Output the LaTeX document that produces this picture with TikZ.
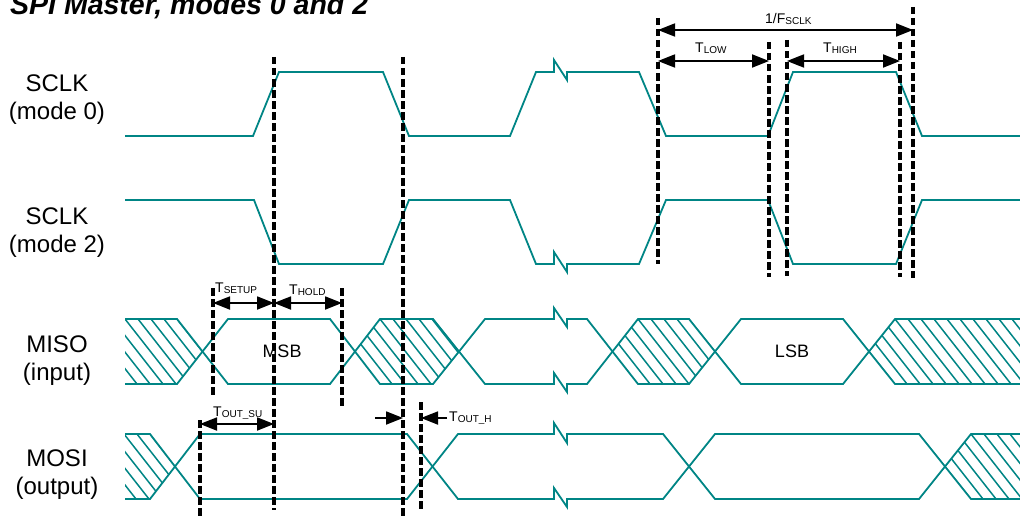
\documentclass[tikz,border=0pt]{standalone}
\usepackage{fontspec}
\setmainfont{Liberation Sans}
\usetikzlibrary{arrows.meta}
\definecolor{teal}{RGB}{0,133,133}
\newcommand\tlab[2]{#1\raisebox{-1pt}{\fontsize{10}{10}\selectfont #2}}
\tikzset{
  sig/.style={draw=teal, line width=1.8pt, line join=miter},
  hatchline/.style={draw=teal, line width=1.5pt},
  guide/.style={draw=black, line width=3.2pt, dash pattern=on 7.5pt off 3.5pt},
  dim/.style={draw=black, line width=1.8pt, {Triangle[length=17pt,width=13pt]}-{Triangle[length=17pt,width=13pt]}},
  pointer/.style={draw=black, line width=1.8pt, -{Triangle[length=17pt,width=13pt]}},
  siglabel/.style={font=\fontsize{24}{28}\selectfont, align=center},
  small/.style={font=\fontsize{14}{14}\selectfont, anchor=base west, inner sep=0pt},
  datalabel/.style={font=\fontsize{18}{18}\selectfont}
}
\begin{document}
\begin{tikzpicture}[x=1pt,y=-1pt]
\useasboundingbox (0,0) rectangle (1020,519);
% title
\node[anchor=base west, inner sep=0pt, font=\fontsize{28.5}{30}\selectfont\bfseries\itshape] (title) at (10,15) {SPI Master, modes 0 and 2};
% signal labels
\node[siglabel] (l0) at (57,99.5) {SCLK\\(mode 0)};
\node[siglabel] (l2) at (57,232.5) {SCLK\\(mode 2)};
\node[siglabel] (lmiso) at (57,360.5) {MISO\\(input)};
\node[siglabel] (lmosi) at (57,474.5) {MOSI\\(output)};
% hatching
\begin{scope}
\clip (125,319) -- (177,319) -- (202.5,351.5) -- (177,384) -- (125,384) -- cycle;
\foreach \x in {0,...,8} \draw[hatchline] (177-13*\x,319) -- ++(51,65);
\end{scope}
\begin{scope}
\clip (355,351.5) -- (380,319) -- (433,319) -- (459,351.5) -- (433,384) -- (380,384) -- cycle;
\foreach \x in {-3,...,6} \draw[hatchline] (380+13*\x,319) -- ++(51,65);
\end{scope}
\begin{scope}
\clip (612.5,351.5) -- (638,319) -- (689,319) -- (715,351.5) -- (689,384) -- (638,384) -- cycle;
\foreach \x in {-3,...,6} \draw[hatchline] (638+13*\x,319) -- ++(51,65);
\end{scope}
\begin{scope}
\clip (869,351.5) -- (895,319) -- (1020,319) -- (1020,384) -- (895,384) -- cycle;
\foreach \x in {-3,...,10} \draw[hatchline] (895+13*\x,319) -- ++(51,65);
\end{scope}
\begin{scope}
\clip (125,434) -- (150,434) -- (175,466.5) -- (150,499) -- (125,499) -- cycle;
\foreach \x in {0,...,6} \draw[hatchline] (150-13*\x,434) -- ++(51,65);
\end{scope}
\begin{scope}
\clip (945,466.5) -- (971,434) -- (1020,434) -- (1020,499) -- (971,499) -- cycle;
\foreach \x in {-3,...,5} \draw[hatchline] (971+13*\x,434) -- ++(51,65);
\end{scope}
% SCLK mode 0
\draw[sig] (125,136) -- (253,136) -- (279,72) -- (383,72) -- (409,136) -- (510,136) -- (536,72) -- (554,72) -- (554,60) -- (567,80) -- (567,72) -- (639,72) -- (666,136) -- (768,136) -- (793,72) -- (896,72) -- (922,136) -- (1020,136);
% SCLK mode 2
\draw[sig] (125,200) -- (254,200) -- (279,264) -- (383,264) -- (409,200) -- (510,200) -- (536,264) -- (554,264) -- (554,252) -- (567,272) -- (567,264) -- (639,264) -- (666,200) -- (768,200) -- (793,264) -- (896,264) -- (922,200) -- (1020,200);
% MISO
\draw[sig] (125,319) -- (177,319) -- (228,384) -- (330,384) -- (380,319) -- (433,319) -- (485,384) -- (554,384) -- (554,373) -- (567,392) -- (567,384) -- (587,384) -- (638,319) -- (689,319) -- (741,384) -- (843,384) -- (895,319) -- (1020,319);
\draw[sig] (125,384) -- (177,384) -- (228,319) -- (330,319) -- (380,384) -- (433,384) -- (485,319) -- (554,319) -- (554,308) -- (567,327) -- (567,319) -- (587,319) -- (638,384) -- (689,384) -- (741,319) -- (843,319) -- (895,384) -- (1020,384);
% MOSI
\draw[sig] (125,434) -- (150,434) -- (200,499) -- (407,499) -- (458,434) -- (554,434) -- (554,423) -- (567,443) -- (567,434) -- (663,434) -- (715,499) -- (919,499) -- (971,434) -- (1020,434);
\draw[sig] (125,499) -- (150,499) -- (200,434) -- (407,434) -- (458,499) -- (554,499) -- (554,488) -- (567,507) -- (567,499) -- (663,499) -- (715,434) -- (919,434) -- (971,499) -- (1020,499);
% data labels
\node[datalabel] (msb) at (282,351) {MSB};
\node[datalabel] (lsb) at (792,351) {LSB};
% guide lines
\coordinate (g1t) at (274,57);  \coordinate (g1b) at (274,510);
\coordinate (g2t) at (403,57);  \coordinate (g2b) at (403,516);
\coordinate (g3t) at (213,288); \coordinate (g3b) at (213,398);
\coordinate (g4t) at (342,288); \coordinate (g4b) at (342,407);
\coordinate (g5t) at (200,420); \coordinate (g5b) at (200,519);
\coordinate (g6t) at (421,402); \coordinate (g6b) at (421,512);
\coordinate (g7t) at (658,18);  \coordinate (g7b) at (658,264);
\coordinate (g8t) at (769,42);  \coordinate (g8b) at (769,277);
\coordinate (g9t) at (787,40);  \coordinate (g9b) at (787,276);
\coordinate (g10t) at (900,42); \coordinate (g10b) at (900,277);
\coordinate (g11t) at (913,7);  \coordinate (g11b) at (913,278);
\foreach \i in {1,...,11} \draw[guide] (g\i t) -- (g\i b);
% dimension arrows
\draw[dim] (658,30) -- (913,30);
\draw[dim] (658,61) -- (769,61);
\draw[dim] (787,61) -- (900,61);
\draw[dim] (213,303) -- (274,303);
\draw[dim] (274,303) -- (342,303);
\draw[dim] (200,424) -- (274,424);
\coordinate (ohl) at (375,418);
\coordinate (ohr) at (447,418);
\draw[pointer] (ohl) -- (403,418);
\draw[pointer] (ohr) -- (421,418);
% small labels
\node[small] (fsclk) at (765,24) {\tlab{1/F}{SCLK}};
\node[small] (tlow) at (695,53) {\tlab{T}{LOW}};
\node[small] (thigh) at (823,53) {\tlab{T}{HIGH}};
\node[small] (tsetup) at (215,292) {\tlab{T}{SETUP}};
\node[small] (thold) at (289,294) {\tlab{T}{HOLD}};
\node[small] (toutsu) at (213,416) {\tlab{T}{OUT\_SU}};
\node[small] (touth) at (449,421) {\tlab{T}{OUT\_H}};
\end{tikzpicture}
\end{document}
